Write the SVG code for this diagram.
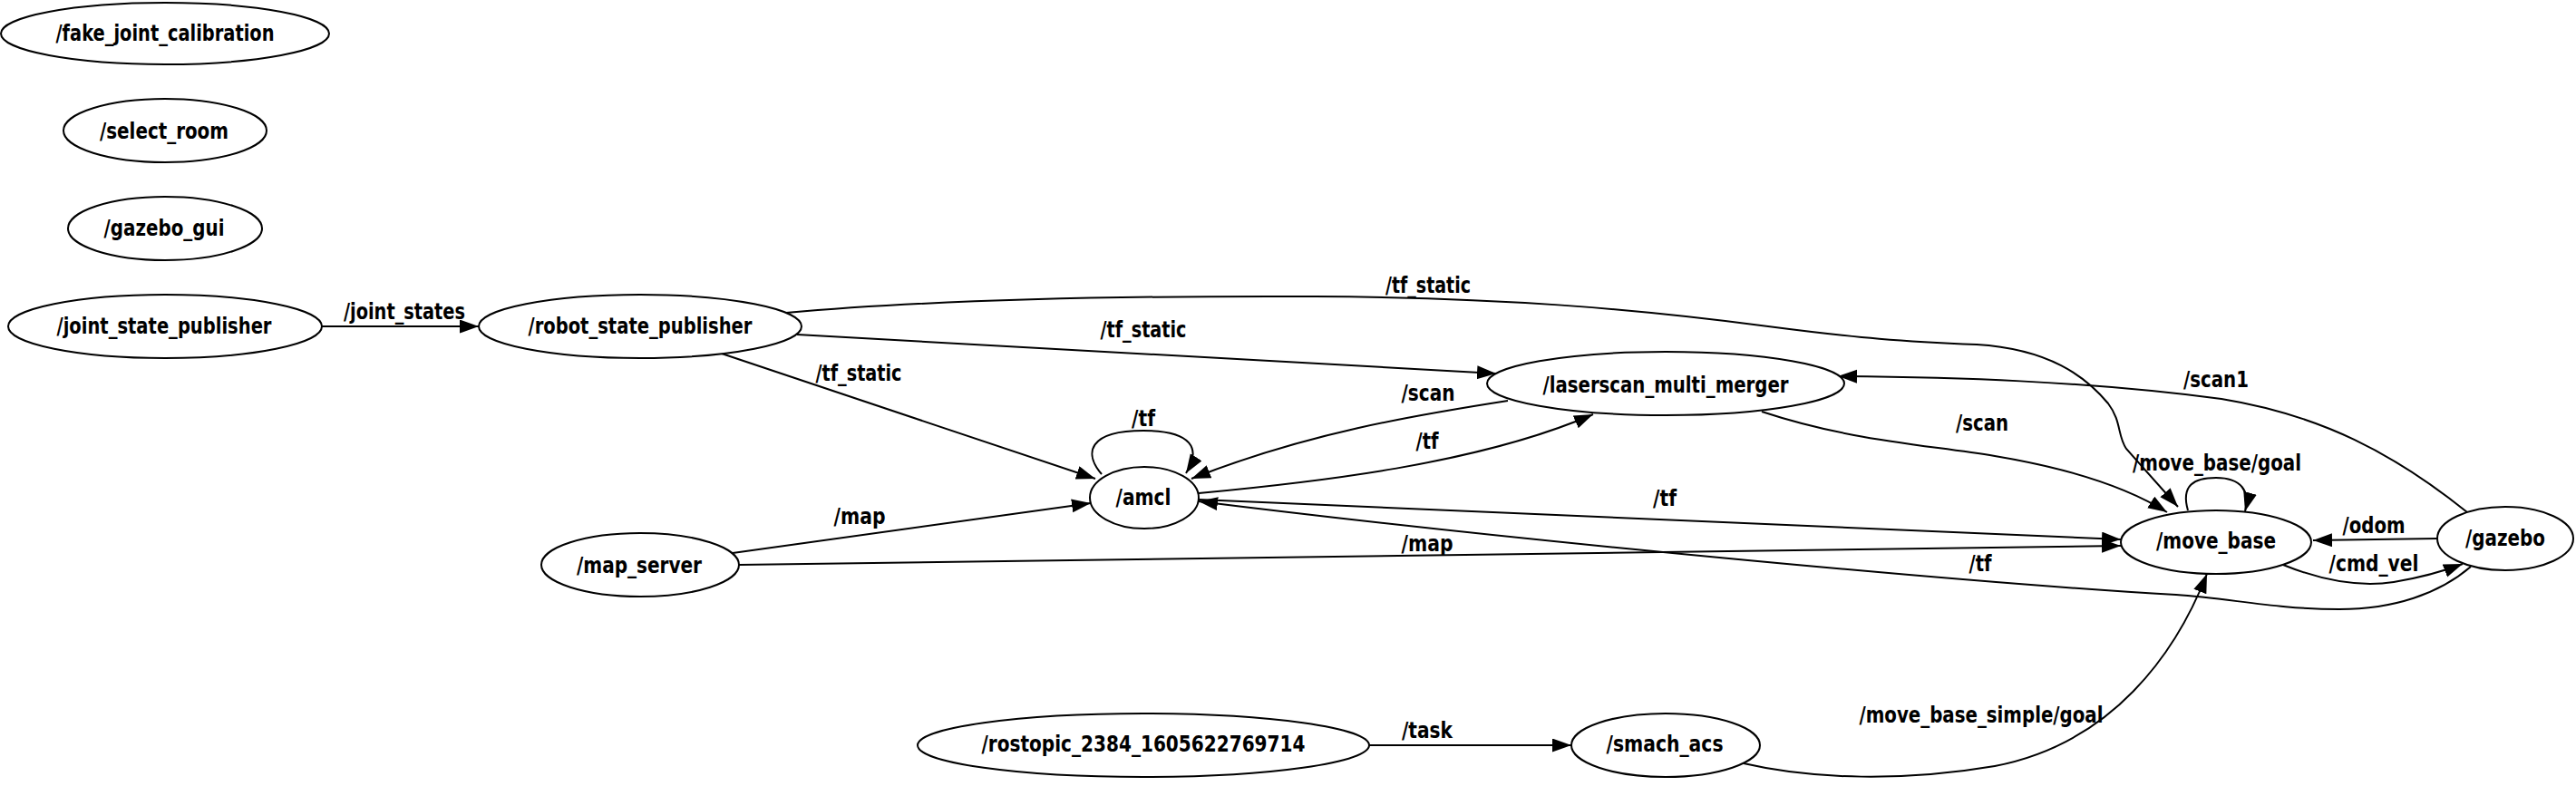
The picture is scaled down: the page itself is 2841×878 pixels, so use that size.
<svg xmlns="http://www.w3.org/2000/svg" width="2841" height="878" viewBox="0 0 2841 878">
<style>
  .n ellipse { fill: #ffffff; stroke: #000000; stroke-width: 2; }
  text { font-family: "DejaVu Sans", "Liberation Sans", sans-serif; font-weight: bold; font-size: 25px; fill: #000000; text-anchor: middle; }
  .e path { fill: none; stroke: #000000; stroke-width: 2; marker-end: url(#arr); }
</style>
<defs>
  <marker id="arr" markerUnits="userSpaceOnUse" markerWidth="24" markerHeight="18" refX="21" refY="7.5" orient="auto">
    <path d="M0,0 L21,7.5 L0,15 z" fill="#000000" stroke="none"/>
  </marker>
</defs>
<rect x="0" y="0" width="2841" height="878" fill="#ffffff"/>

<g id="edges" class="e">
  <path d="M355,360 L528,360"/>
  <path d="M796,390 L1208,528"/>
  <path d="M879,369 L1650,412"/>
  <path d="M867,345 C1000,333 1200,326 1450,327 C1650,328 1800,340 1950,360 C2050,373 2100,377 2180,380 C2260,385 2300,415 2325,445 C2340,465 2335,480 2345,495 L2402,559"/>
  <path d="M1215,523 C1195,500 1200,475 1261,475 C1315,475 1325,495 1308,522"/>
  <path d="M1663,442 C1560,458 1440,478 1314,528"/>
  <path d="M1322,544 C1450,532 1630,512 1757,457"/>
  <path d="M1322,551 L2339,595"/>
  <path d="M808,610 L1203,555"/>
  <path d="M815,623 L2339,602"/>
  <path d="M1943,454 C2040,486 2120,490 2200,503 C2290,518 2350,540 2390,565"/>
  <path d="M2721,565 C2640,500 2560,458 2450,440 C2300,420 2150,416 2027,415"/>
  <path d="M2413,563 C2405,535 2420,527 2444,527 C2472,527 2482,542 2476,564"/>
  <path d="M2688,594 L2551,596"/>
  <path d="M2518,623 C2560,640 2600,648 2640,642 C2670,637 2695,630 2716,622"/>
  <path d="M2725,625 C2690,655 2640,672 2580,672 C2510,672 2460,660 2400,656 C2200,645 1700,600 1322,553"/>
  <path d="M1510,822 L1733,822"/>
  <path d="M1923,842 C2000,860 2100,862 2200,845 C2330,820 2400,720 2434,633"/>
  <text x="446" y="352" textLength="134" lengthAdjust="spacingAndGlyphs">/joint_states</text>
  <text x="947" y="420" textLength="95" lengthAdjust="spacingAndGlyphs">/tf_static</text>
  <text x="1261" y="372" textLength="95" lengthAdjust="spacingAndGlyphs">/tf_static</text>
  <text x="1575" y="323" textLength="94" lengthAdjust="spacingAndGlyphs">/tf_static</text>
  <text x="1261" y="470" textLength="26" lengthAdjust="spacingAndGlyphs">/tf</text>
  <text x="1575" y="442" textLength="59" lengthAdjust="spacingAndGlyphs">/scan</text>
  <text x="1574" y="495" textLength="25" lengthAdjust="spacingAndGlyphs">/tf</text>
  <text x="1836" y="558" textLength="26" lengthAdjust="spacingAndGlyphs">/tf</text>
  <text x="948" y="578" textLength="57" lengthAdjust="spacingAndGlyphs">/map</text>
  <text x="1574" y="608" textLength="57" lengthAdjust="spacingAndGlyphs">/map</text>
  <text x="2186" y="475" textLength="58" lengthAdjust="spacingAndGlyphs">/scan</text>
  <text x="2444" y="427" textLength="72" lengthAdjust="spacingAndGlyphs">/scan1</text>
  <text x="2445" y="519" textLength="186" lengthAdjust="spacingAndGlyphs">/move_base/goal</text>
  <text x="2618" y="588" textLength="69" lengthAdjust="spacingAndGlyphs">/odom</text>
  <text x="2618" y="630" textLength="99" lengthAdjust="spacingAndGlyphs">/cmd_vel</text>
  <text x="2184" y="630" textLength="25" lengthAdjust="spacingAndGlyphs">/tf</text>
  <text x="1574" y="814" textLength="56" lengthAdjust="spacingAndGlyphs">/task</text>
  <text x="2185" y="797" textLength="269" lengthAdjust="spacingAndGlyphs">/move_base_simple/goal</text>
</g>

<g id="fake_joint_calibration" class="n">
  <ellipse cx="182" cy="37" rx="181" ry="34"/>
  <text x="182" y="45" textLength="241" lengthAdjust="spacingAndGlyphs">/fake_joint_calibration</text>
</g>
<g id="select_room" class="n">
  <ellipse cx="182" cy="144" rx="112" ry="35"/>
  <text x="181" y="153" textLength="142" lengthAdjust="spacingAndGlyphs">/select_room</text>
</g>
<g id="gazebo_gui" class="n">
  <ellipse cx="182" cy="252" rx="107" ry="35"/>
  <text x="181" y="260" textLength="133" lengthAdjust="spacingAndGlyphs">/gazebo_gui</text>
</g>
<g id="joint_state_publisher" class="n">
  <ellipse cx="182" cy="360" rx="173" ry="35"/>
  <text x="181" y="368" textLength="237" lengthAdjust="spacingAndGlyphs">/joint_state_publisher</text>
</g>
<g id="robot_state_publisher" class="n">
  <ellipse cx="706" cy="360" rx="178" ry="35"/>
  <text x="706" y="368" textLength="247" lengthAdjust="spacingAndGlyphs">/robot_state_publisher</text>
</g>
<g id="amcl" class="n">
  <ellipse cx="1262" cy="549" rx="60" ry="34"/>
  <text x="1261" y="557" textLength="61" lengthAdjust="spacingAndGlyphs">/amcl</text>
</g>
<g id="map_server" class="n">
  <ellipse cx="706" cy="623" rx="109" ry="35"/>
  <text x="705" y="632" textLength="138" lengthAdjust="spacingAndGlyphs">/map_server</text>
</g>
<g id="laserscan_multi_merger" class="n">
  <ellipse cx="1837" cy="423" rx="197" ry="35"/>
  <text x="1837" y="433" textLength="271" lengthAdjust="spacingAndGlyphs">/laserscan_multi_merger</text>
</g>
<g id="move_base" class="n">
  <ellipse cx="2444" cy="598" rx="105" ry="35"/>
  <text x="2444" y="605" textLength="132" lengthAdjust="spacingAndGlyphs">/move_base</text>
</g>
<g id="gazebo" class="n">
  <ellipse cx="2763" cy="594" rx="75" ry="35"/>
  <text x="2763" y="602" textLength="88" lengthAdjust="spacingAndGlyphs">/gazebo</text>
</g>
<g id="rostopic_2384_1605622769714" class="n">
  <ellipse cx="1261" cy="822" rx="249" ry="35"/>
  <text x="1261" y="829" textLength="357" lengthAdjust="spacingAndGlyphs">/rostopic_2384_1605622769714</text>
</g>
<g id="smach_acs" class="n">
  <ellipse cx="1837" cy="822" rx="104" ry="35"/>
  <text x="1836" y="829" textLength="129" lengthAdjust="spacingAndGlyphs">/smach_acs</text>
</g>
</svg>
